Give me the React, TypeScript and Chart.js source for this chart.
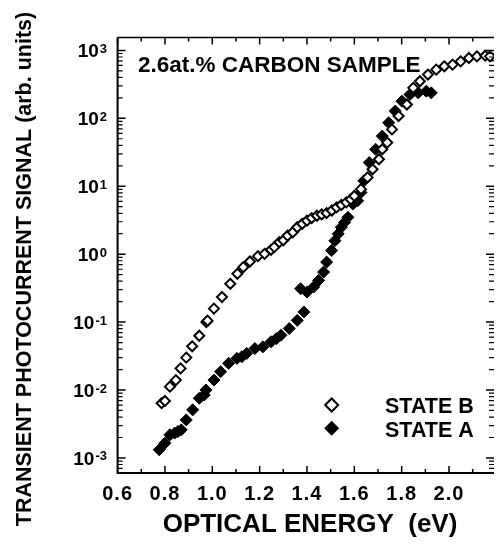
import React, { useEffect, useRef } from "react";
import { Chart, registerables } from "chart.js";

Chart.register(...registerables);

// ---------- data ----------
const stateBEnergy = [
  0.786, 0.8, 0.821, 0.846, 0.866, 0.89, 0.915, 0.945, 0.975, 0.98, 1.007, 1.041, 1.076, 1.106,
  1.131, 1.159, 1.193, 1.221, 1.248, 1.262, 1.283, 1.3, 1.318, 1.34, 1.359, 1.38, 1.4, 1.42,
  1.442, 1.462, 1.483, 1.505, 1.525, 1.545, 1.566, 1.585, 1.6, 1.628, 1.656, 1.677, 1.704,
  1.718, 1.739, 1.759, 1.787, 1.822, 1.849, 1.877, 1.911, 1.946, 1.98, 2.015, 2.049, 2.084,
  2.118, 2.153, 2.173,
];
const stateBSignal = [
  0.0064, 0.0069, 0.0112, 0.014, 0.0208, 0.03, 0.044, 0.063, 0.1, 0.105, 0.158, 0.234, 0.366,
  0.514, 0.644, 0.78, 0.935, 1.01, 1.16, 1.27, 1.5, 1.6, 1.87, 2.1, 2.49, 2.8, 3.11, 3.4, 3.68,
  3.85, 4.03, 4.4, 4.89, 5.3, 5.79, 6.4, 7.2, 9.06, 13.5, 17.8, 25, 35, 43.9, 68.7, 108, 160,
  281, 351, 441, 521, 583, 617, 690, 774, 817, 836, 817,
];

const stateAEnergy = [
  0.776, 0.8, 0.821, 0.841, 0.855, 0.869, 0.89, 0.917, 0.945, 0.966, 0.973, 1.007, 1.035,
  1.069, 1.104, 1.125, 1.145, 1.18, 1.214, 1.248, 1.27, 1.29, 1.325, 1.359, 1.387, 1.373,
  1.4, 1.428, 1.449, 1.47, 1.483, 1.504, 1.518, 1.532, 1.545, 1.559, 1.573, 1.594, 1.614,
  1.628, 1.64, 1.663, 1.69, 1.718, 1.745, 1.773, 1.801, 1.835, 1.87, 1.904, 1.925,
];
const stateASignal = [
  0.00132, 0.00165, 0.00219, 0.00232, 0.00245, 0.00259, 0.00363, 0.0051, 0.00755, 0.00845,
  0.01, 0.014, 0.0186, 0.0247, 0.0292, 0.031, 0.0345, 0.0408, 0.0432, 0.0513, 0.057, 0.064,
  0.0804, 0.106, 0.141, 0.31, 0.277, 0.328, 0.41, 0.545, 0.764, 1.13, 1.58, 1.99, 2.49, 2.94,
  3.49, 5.47, 6.1, 8.1, 12, 22.3, 35, 54.8, 86, 128, 179, 224, 237, 251, 237,
];

const xTickValues = [0.6, 0.7, 0.8, 0.9, 1.0, 1.1, 1.2, 1.3, 1.4, 1.5, 1.6, 1.7, 1.8, 1.9, 2.0, 2.1];
const xLabelValues = [0.6, 0.8, 1.0, 1.2, 1.4, 1.6, 1.8, 2.0];
const yDecades = [-3, -2, -1, 0, 1, 2, 3];
const yMinorMultipliers = [2, 3, 4, 5, 6, 7, 8, 9];

const panelLabel = "2.6at.% CARBON SAMPLE";
const xTitle = "OPTICAL ENERGY  (eV)";
const yTitle = "TRANSIENT PHOTOCURRENT SIGNAL (arb. units)";
const legendLabels = ["STATE B", "STATE A"];

const FONT = "'Liberation Sans', Arial, Helvetica, sans-serif";

function diamond(ctx: CanvasRenderingContext2D, x: number, y: number, r: number) {
  ctx.beginPath();
  ctx.moveTo(x - r, y);
  ctx.lineTo(x, y - r);
  ctx.lineTo(x + r, y);
  ctx.lineTo(x, y + r);
  ctx.closePath();
}

const decorPlugin = {
  id: "decor",
  beforeDraw(chart: any) {
    (chart.ctx as any).letterSpacing = "1px";
  },
  beforeDatasetsDraw(chart: any) {
    (chart.ctx as any).letterSpacing = "0px";
  },
  afterDraw(chart: any) {
    const ctx: CanvasRenderingContext2D = chart.ctx;
    const { left, right, top, bottom } = chart.chartArea;
    const xs = chart.scales.x;
    const ys = chart.scales.y;
    ctx.save();
    (ctx as any).letterSpacing = "0px";
    ctx.strokeStyle = "#000";
    ctx.fillStyle = "#000";

    // frame
    ctx.lineWidth = 2;
    ctx.beginPath();
    ctx.moveTo(left, top);
    ctx.lineTo(left, bottom);
    ctx.lineTo(right, bottom);
    ctx.stroke();
    ctx.lineWidth = 1.5;
    ctx.beginPath();
    ctx.moveTo(left, top);
    ctx.lineTo(right, top);
    ctx.stroke();

    // x ticks (inward, bottom and top)
    ctx.lineWidth = 1.5;
    xTickValues.forEach((v) => {
      const px = xs.getPixelForValue(v);
      if (px < left - 0.5 || px > right + 0.5) return;
      const major = xLabelValues.some((m) => Math.abs(m - v) < 1e-6);
      const len = major ? 7 : 4;
      ctx.beginPath();
      ctx.moveTo(px, bottom);
      ctx.lineTo(px, bottom - len);
      ctx.moveTo(px, top);
      ctx.lineTo(px, top + len);
      ctx.stroke();
    });

    // y ticks (inward, left and right)
    const decs = [-4, ...yDecades];
    decs.forEach((k) => {
      const all = [1, ...yMinorMultipliers];
      all.forEach((m) => {
        const v = m * Math.pow(10, k);
        const py = ys.getPixelForValue(v);
        if (py < top - 0.5 || py > bottom + 0.5) return;
        const len = m === 1 ? 8 : 5;
        ctx.lineWidth = m === 1 ? 1.5 : 1.2;
        ctx.beginPath();
        ctx.moveTo(left, py);
        ctx.lineTo(left + len, py);
        ctx.moveTo(right, py);
        ctx.lineTo(right - len, py);
        ctx.stroke();
      });
    });

    // y tick labels 10^k
    const labelRight = 107;
    yDecades.forEach((k) => {
      const py = ys.getPixelForValue(Math.pow(10, k));
      const exp = k < 0 ? "-" + Math.abs(k) : String(k);
      ctx.font = `bold 13px ${FONT}`;
      const ew = ctx.measureText(exp).width;
      ctx.textAlign = "left";
      ctx.textBaseline = "alphabetic";
      ctx.fillText(exp, labelRight - ew, py + 2.5);
      ctx.font = `bold 19px ${FONT}`;
      ctx.textAlign = "right";
      ctx.fillText("10", labelRight - ew - 1, py + 7);
    });

    // panel label
    ctx.font = `bold 22.5px ${FONT}`;
    ctx.textAlign = "left";
    ctx.textBaseline = "alphabetic";
    ctx.fillText(panelLabel, 138, 71.5);

    // legend
    ctx.lineWidth = 2;
    diamond(ctx, 331.7, 405, 6.5);
    ctx.fillStyle = "#fff";
    ctx.fill();
    ctx.stroke();
    ctx.fillStyle = "#000";
    diamond(ctx, 331.7, 428.3, 7.5);
    ctx.fill();
    ctx.font = `bold 21.5px ${FONT}`;
    ctx.fillText(legendLabels[0], 385, 413.3);
    ctx.fillText(legendLabels[1], 385, 436.6);

    // axis titles
    ctx.font = `bold 26px ${FONT}`;
    ctx.textAlign = "center";
    ctx.fillText(xTitle, 310, 532);

    ctx.save();
    ctx.translate(31, 269);
    ctx.rotate(-Math.PI / 2);
    ctx.font = `bold 21.5px ${FONT}`;
    ctx.textAlign = "center";
    ctx.textBaseline = "alphabetic";
    ctx.fillText(yTitle, 0, 0);
    ctx.restore();

    ctx.restore();
  },
};

export default function App() {
  const ref = useRef<HTMLCanvasElement | null>(null);

  useEffect(() => {
    if (!ref.current) return;
    const chart = new Chart(ref.current, {
      type: "scatter",
      data: {
        datasets: [
          {
            label: legendLabels[0],
            data: stateBEnergy.map((x, i) => ({ x, y: stateBSignal[i] })),
            pointStyle: "rectRot",
            pointRadius: 5,
            pointBorderWidth: 2,
            backgroundColor: "#fff",
            borderColor: "#000",
            showLine: false,
          },
          {
            label: legendLabels[1],
            data: stateAEnergy.map((x, i) => ({ x, y: stateASignal[i] })),
            pointStyle: "rectRot",
            pointRadius: 6,
            pointBorderWidth: 1,
            backgroundColor: "#000",
            borderColor: "#000",
            showLine: false,
          },
        ],
      },
      options: {
        responsive: false,
        animation: false,
        devicePixelRatio: 1,
        layout: { padding: { left: 0, right: 1, top: 37.5, bottom: 0 } },
        plugins: {
          legend: { display: false },
          tooltip: { enabled: false },
          title: { display: false },
        },
        scales: {
          x: {
            type: "linear",
            min: 0.6,
            max: 2.19,
            grid: { display: false, drawTicks: false },
            border: { display: false },
            afterFit: (scale: any) => {
              scale.height = 71;
            },
            afterBuildTicks: (scale: any) => {
              scale.ticks = xLabelValues.map((v) => ({ value: v }));
            },
            ticks: {
              autoSkip: false,
              maxRotation: 0,
              padding: 9,
              color: "#000",
              font: { family: FONT, size: 20, weight: "bold" },
              callback: (v: any) => Number(v).toFixed(1),
            },
          },
          y: {
            type: "logarithmic",
            min: Math.pow(10, -3.19),
            max: Math.pow(10, 3.19),
            grid: { display: false, drawTicks: false },
            border: { display: false },
            ticks: { display: false },
            afterFit: (scale: any) => {
              scale.width = 117.6;
            },
          },
        },
      },
      plugins: [decorPlugin],
    });
    return () => chart.destroy();
  }, []);

  return (
    <div style={{ position: "absolute", left: 0, top: 0, width: 501, height: 544, background: "#fff" }}>
      <canvas ref={ref} width={501} height={544} />
    </div>
  );
}
